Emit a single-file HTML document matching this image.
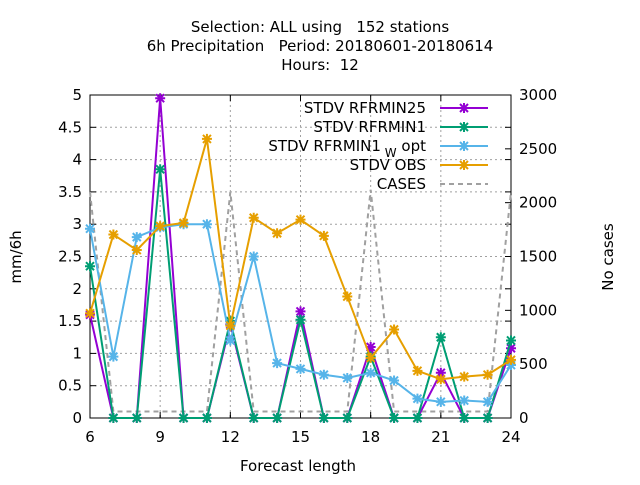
<!DOCTYPE html>
<html><head><meta charset="utf-8"><style>
body{margin:0;background:#fff}
svg text{font-family:"DejaVu Sans","Liberation Sans",sans-serif;fill:#000}
</style></head><body>
<svg id="chart" width="640" height="480" viewBox="0 0 640 480" xmlns="http://www.w3.org/2000/svg">
<g font-size="15" text-anchor="middle">
<text x="320" y="32" xml:space="preserve">Selection: ALL using   152 stations</text>
<text x="320" y="51" xml:space="preserve">6h Precipitation   Period: 20180601-20180614</text>
<text x="320" y="70" xml:space="preserve">Hours:  12</text>
</g>
<g id="grid"></g>
<g id="axes"></g>
<g id="series"></g>
<g id="legend"></g>
<text x="298" y="471" font-size="15" text-anchor="middle">Forecast length</text>
<text x="21" y="257" font-size="15" text-anchor="middle" transform="rotate(-90 21 257)">mm/6h</text>
<text x="613" y="257" font-size="15" text-anchor="middle" transform="rotate(-90 613 257)">No cases</text>
</svg>
<script>
const hours=[6,7,8,9,10,11,12,13,14,15,16,17,18,19,20,21,22,23,24];
const rfrmin25=[1.6,0,0,4.95,0,0,1.45,0,0,1.65,0,0,1.1,0,0,0.7,0,0,1.08];
const rfrmin1=[2.35,0,0,3.85,0,0,1.5,0,0,1.52,0,0,0.95,0,0,1.25,0,0,1.2];
const rfrmin1w=[2.93,0.95,2.8,2.95,3.0,3.0,1.2,2.5,0.85,0.76,0.67,0.62,0.7,0.58,0.3,0.25,0.27,0.25,0.82];
const obs=[1.62,2.84,2.6,2.97,3.02,4.32,1.43,3.1,2.86,3.07,2.82,1.88,0.93,1.37,0.73,0.6,0.64,0.67,0.9];
const cases=[2100,60,60,60,60,60,2100,60,60,60,60,60,2120,60,60,60,60,60,2100];
const xTicks=[6,9,12,15,18,21,24];
const yTicks=[0,0.5,1,1.5,2,2.5,3,3.5,4,4.5,5];
const y2Ticks=[0,500,1000,1500,2000,2500,3000];
const L=90,R=511,T=95,B=418;
const X=v=>L+(v-6)/18*(R-L);
const Y=v=>B-v/5*(B-T);
const Y2=v=>B-v/3000*(B-T);
const NS='http://www.w3.org/2000/svg';
function mk(p,t,a){const e=document.createElementNS(NS,t);for(const k in a)e.setAttribute(k,a[k]);p.appendChild(e);return e;}
const grid=document.getElementById('grid'),axes=document.getElementById('axes'),series=document.getElementById('series'),legend=document.getElementById('legend');
yTicks.forEach(v=>{if(v>0&&v<5){const l=mk(grid,'line',{x1:L,x2:R,y1:Y(v),y2:Y(v),stroke:'#a0a0a0','stroke-dasharray':'2,3','stroke-width':1});

}
const t=mk(axes,'text',{x:L-8,y:Y(v)+5,'font-size':15,'text-anchor':'end'});t.textContent=v;


mk(axes,'line',{x1:L,x2:L+6,y1:Y(v),y2:Y(v),stroke:'#000'});mk(axes,'line',{x1:R,x2:R-6,y1:Y(v),y2:Y(v),stroke:'#000'});});
xTicks.forEach(v=>{if(v>6&&v<24){const l=mk(grid,'line',{x1:X(v),x2:X(v),y1:T,y2:B,stroke:'#a0a0a0','stroke-dasharray':'2,3'});

}
const t=mk(axes,'text',{x:X(v),y:B+24,'font-size':15,'text-anchor':'middle'});t.textContent=v;


mk(axes,'line',{x1:X(v),x2:X(v),y1:B,y2:B-6,stroke:'#000'});mk(axes,'line',{x1:X(v),x2:X(v),y1:T,y2:T+6,stroke:'#000'});});
hours.forEach(v=>{mk(axes,'line',{x1:X(v),x2:X(v),y1:B,y2:B-3,stroke:'#000'});});
y2Ticks.forEach(v=>{const t=mk(axes,'text',{x:R+8,y:Y2(v)+5,'font-size':15});t.textContent=v;


mk(axes,'line',{x1:R,x2:R-6,y1:Y2(v),y2:Y2(v),stroke:'#000'});});
mk(axes,'rect',{x:L,y:T,width:R-L,height:B-T,fill:'none',stroke:'#000'});
const cp=mk(series,'polyline',{points:hours.map((h,i)=>X(h)+','+Y2(cases[i])).join(' '),fill:'none',stroke:'#a0a0a0','stroke-width':2,'stroke-dasharray':'5,4'});


function star(g,x,y,c){mk(g,'path',{d:`M${x-4},${y-4}L${x+4},${y+4}M${x-4},${y+4}L${x+4},${y-4}M${x-5},${y}L${x+5},${y}M${x},${y-5}L${x},${y+5}`,stroke:c,'stroke-width':2});}
const defs=[['STDV RFRMIN25',rfrmin25,'#9400d3','rfrmin25'],['STDV RFRMIN1',rfrmin1,'#009e73','rfrmin1'],['STDV RFRMIN1_W opt',rfrmin1w,'#56b4e9','rfrmin1-wopt'],['STDV OBS',obs,'#e69f00','obs']];
defs.forEach(([n,d,c,id])=>{const g=mk(series,'g',{});


mk(g,'polyline',{points:hours.map((h,i)=>X(h)+','+Y(d[i])).join(' '),fill:'none',stroke:c,'stroke-width':2});
hours.forEach((h,i)=>star(g,X(h),Y(d[i]),c));});
const ly=[108,127,146,165,184];
defs.forEach(([n,d,c,id],i)=>{const t=mk(legend,'text',{x:426,y:ly[i]+5,'font-size':15,'text-anchor':'end'});
if(i==2){t.innerHTML='STDV RFRMIN1<tspan dy="6" font-size="12"> W</tspan><tspan dy="-6"> opt</tspan>';}else t.textContent=n;


mk(legend,'line',{x1:440,x2:488,y1:ly[i],y2:ly[i],stroke:c,'stroke-width':2});star(legend,464,ly[i],c);});
const ct=mk(legend,'text',{x:426,y:ly[4]+5,'font-size':15,'text-anchor':'end'});ct.textContent='CASES';


mk(legend,'line',{x1:440,x2:488,y1:ly[4],y2:ly[4],stroke:'#a0a0a0','stroke-width':2,'stroke-dasharray':'5,4'});
</script>
</body></html>
